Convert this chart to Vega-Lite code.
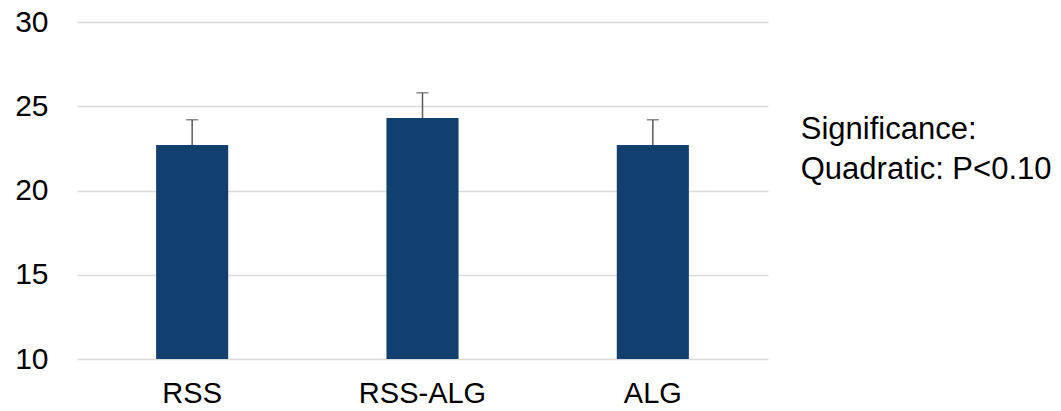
{
  "$schema": "https://vega.github.io/schema/vega-lite/v6.json",
  "autosize": "none",
  "width": 691,
  "height": 337,
  "padding": {"left": 77, "top": 22, "right": 293, "bottom": 52},
  "background": "white",
  "config": {
    "font": "Liberation Sans",
    "view": {"stroke": null}
  },
  "title": {
    "text": ["Significance:", "Quadratic: P<0.10"],
    "orient": "right",
    "angle": 0,
    "anchor": "start",
    "align": "left",
    "baseline": "top",
    "font": "Liberation Sans",
    "fontSize": 31,
    "fontWeight": "normal",
    "color": "#000000",
    "lineHeight": 40,
    "offset": -218,
    "dy": 108
  },
  "data": {
    "values": [
      {"treatment": "RSS", "value": 22.7, "hi": 24.2},
      {"treatment": "RSS-ALG", "value": 24.3, "hi": 25.8},
      {"treatment": "ALG", "value": 22.7, "hi": 24.2}
    ]
  },
  "encoding": {
    "x": {
      "field": "treatment",
      "type": "nominal",
      "sort": null,
      "scale": {"paddingInner": 0.687, "paddingOuter": 0.3435},
      "axis": {
        "title": null,
        "labelAngle": 0,
        "labelFontSize": 29,
        "labelColor": "#000000",
        "labelFont": "Liberation Sans",
        "ticks": false,
        "domain": false,
        "labelPadding": 20
      }
    }
  },
  "layer": [
    {
      "mark": {"type": "bar", "color": "#113F70", "clip": true},
      "encoding": {
        "y": {
          "field": "value",
          "type": "quantitative",
          "scale": {"domain": [10, 30], "nice": false, "zero": false},
          "axis": {
            "title": null,
            "values": [10, 15, 20, 25, 30],
            "labelFontSize": 30,
            "labelColor": "#000000",
            "labelFont": "Liberation Sans",
            "ticks": false,
            "domain": false,
            "labelPadding": 29,
            "gridColor": "#D9D9D9",
            "gridWidth": 1.5
          }
        }
      }
    },
    {
      "mark": {"type": "rule", "color": "#595959", "strokeWidth": 1.5},
      "encoding": {
        "y": {"field": "value", "type": "quantitative"},
        "y2": {"field": "hi"}
      }
    },
    {
      "mark": {"type": "tick", "color": "#595959", "thickness": 1.5, "size": 12},
      "encoding": {
        "y": {"field": "hi", "type": "quantitative"}
      }
    }
  ]
}
